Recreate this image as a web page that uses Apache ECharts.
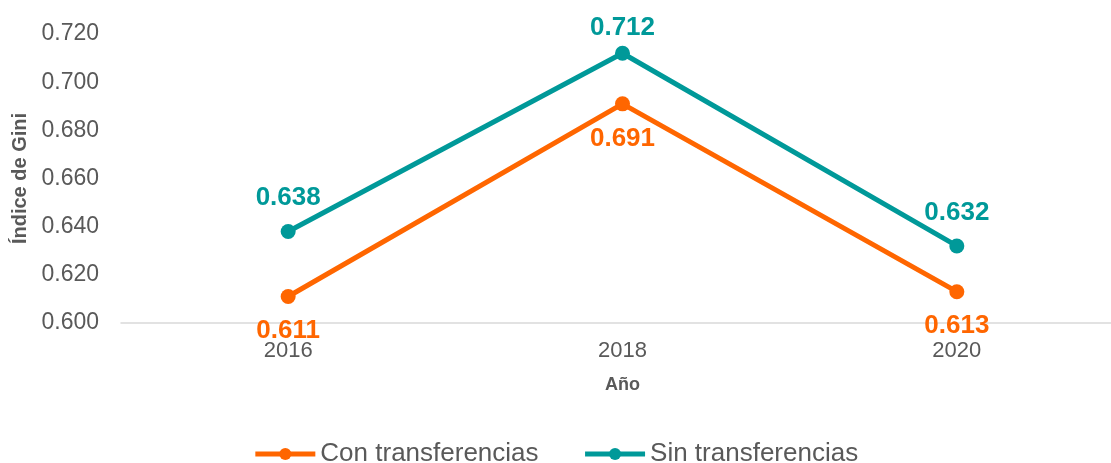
<!doctype html>
<html lang="es">
<head>
<meta charset="utf-8">
<title>Índice de Gini</title>
<script src="https://cdn.jsdelivr.net/npm/echarts@6/dist/echarts.min.js"></script>
<style>
  html, body { margin: 0; padding: 0; background: #fff; }
  #chart { width: 1111px; height: 463px; }
</style>
</head>
<body>
<div id="chart"></div>
<script>
var years = ['2016', '2018', '2020'];
var conTransferencias = [0.611, 0.691, 0.613];
var sinTransferencias = [0.638, 0.712, 0.632];

var chart = echarts.init(document.getElementById('chart'));
var labelFont = 'Liberation Sans, Arial, sans-serif';

function fmt(p) { return p.value.toFixed(3); }

// top label of the 2018 peak sits a bit closer to its point (as in the original)
var sinData = sinTransferencias.map(function (v, i) {
    return i === 1 ? { value: v, label: { distance: 5 } } : v;
});

chart.setOption({
    animation: false,
    textStyle: { fontFamily: labelFont },
    grid: { left: 121, width: 1003, top: 34, bottom: 140, outerBoundsMode: 'none' },
    legend: {
        top: 436,
        left: 'center',
        itemGap: 44,
        itemWidth: 60,
        itemHeight: 15,
        lineStyle: { width: 5 },
        textStyle: { fontSize: 26, color: '#595959', fontFamily: labelFont },
        data: ['Con transferencias', 'Sin transferencias']
    },
    xAxis: {
        type: 'category',
        data: years,
        name: 'Año',
        nameLocation: 'middle',
        nameGap: 53,
        nameTextStyle: { fontSize: 18, fontWeight: 'bold', color: '#595959' },
        axisLine: { lineStyle: { color: '#d9d9d9', width: 1.5 } },
        axisTick: { show: false },
        axisLabel: { fontSize: 22, color: '#595959', margin: 17 }
    },
    yAxis: {
        type: 'value',
        min: 0.600,
        max: 0.720,
        interval: 0.020,
        name: 'Índice de Gini',
        nameLocation: 'middle',
        nameGap: 72,
        nameTextStyle: { fontSize: 20, fontWeight: 'bold', color: '#595959' },
        axisLine: { show: false },
        axisTick: { show: false },
        splitLine: { show: false },
        axisLabel: {
            fontSize: 23, color: '#595959', margin: 22,
            formatter: function (v) { return v.toFixed(3); }
        }
    },
    series: [{
        name: 'Con transferencias',
        type: 'line',
        data: conTransferencias,
        color: '#ff6600',
        symbol: 'circle',
        symbolSize: 15,
        lineStyle: { width: 5 },
        label: {
            show: true, position: 'bottom', distance: 14,
            fontSize: 26, fontWeight: 'bold', color: '#ff6600',
            formatter: fmt
        }
    }, {
        name: 'Sin transferencias',
        type: 'line',
        data: sinData,
        color: '#009999',
        symbol: 'circle',
        symbolSize: 15,
        lineStyle: { width: 5 },
        label: {
            show: true, position: 'top', distance: 13,
            fontSize: 26, fontWeight: 'bold', color: '#009999',
            formatter: fmt
        }
    }]
});
</script>
</body>
</html>
